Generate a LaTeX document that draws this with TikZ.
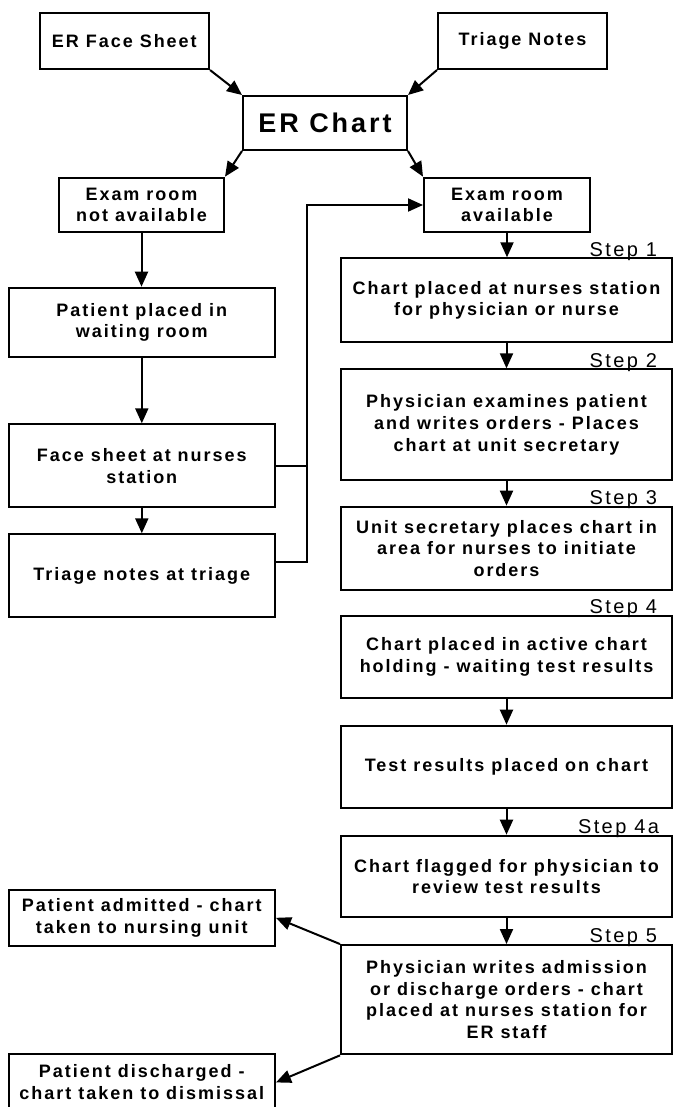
\documentclass[tikz,border=0pt]{standalone}
\usepackage{fontspec}
\setmainfont{Liberation Sans}[LetterSpace=11]
\newfontfamily\stepfont{Liberation Sans}[LetterSpace=12]
\usetikzlibrary{arrows.meta}

\begin{document}
\begin{tikzpicture}[x=1pt, y=-1pt, line width=2pt,
    box/.style={draw, line width=2pt, align=center, inner sep=0pt,
        font=\fontsize{18}{21.7}\selectfont\bfseries},
    flow/.style={-{Triangle[length=15pt,width=13pt]}, line width=2pt},
    steplabel/.style={anchor=base east, inner sep=0pt,
        font=\stepfont\fontsize{20}{24}\selectfont}]
    \useasboundingbox (0,0) rectangle (673,1107);

    % Sources
    \node[box, minimum width=169.5pt, minimum height=56.3pt] (facesheet) at (124.3,40.9) {ER Face Sheet};
    \node[box, minimum width=169pt, minimum height=56pt] (triagenotes) at (522.5,41) {Triage Notes};
    \node[box, minimum width=164pt, minimum height=54pt, font=\fontsize{27}{30}\selectfont\bfseries] (erchart) at (325,123) {ER Chart};

    % Branches
    \node[box, minimum width=165pt, minimum height=54.6pt] (notavail) at (141.5,205) {Exam room\\not available};
    \node[box, minimum width=166pt, minimum height=54.6pt] (avail) at (507,205) {Exam room\\available};

    % Waiting side
    \node[box, minimum width=266.4pt, minimum height=69.6pt] (waiting) at (141.8,322.5) {Patient placed in\\waiting room};
    \node[box, minimum width=266.4pt, minimum height=83pt] (facenurses) at (141.8,465.8) {Face sheet at nurses\\station};
    \node[box, minimum width=266.4pt, minimum height=82.4pt] (triagetriage) at (141.8,575.5) {Triage notes at triage};

    % Steps
    \node[box, minimum width=331pt, minimum height=84pt] (stepone) at (506.5,300.3) {Chart placed at nurses station\\for physician or nurse};
    \node[box, minimum width=331pt, minimum height=110.7pt] (steptwo) at (506.5,424.7) {Physician examines patient\\and writes orders - Places\\chart at unit secretary};
    \node[box, minimum width=331pt, minimum height=83.3pt] (stepthree) at (506.5,548.3) {Unit secretary places chart in\\area for nurses to initiate\\orders};
    \node[box, minimum width=331pt, minimum height=82.3pt] (stepfour) at (506.5,657.2) {Chart placed in active chart\\holding - waiting test results};
    \node[box, minimum width=331pt, minimum height=82.6pt] (results) at (506.5,767) {Test results placed on chart};
    \node[box, minimum width=331pt, minimum height=81.6pt] (stepfoura) at (506.5,876.5) {Chart flagged for physician to\\review test results};
    \node[box, minimum width=331pt, minimum height=109.3pt] (stepfive) at (506.5,999.7) {Physician writes admission\\or discharge orders - chart\\placed at nurses station for\\ER staff};

    % Outcomes
    \node[box, minimum width=266.4pt, minimum height=55.7pt] (admitted) at (141.8,917.8) {Patient admitted - chart\\taken to nursing unit};
    \node[box, minimum width=266.4pt, minimum height=56.2pt] (discharged) at (141.8,1082.4) {Patient discharged -\\chart taken to dismissal};

    % Step labels
    \node[steplabel] (labone) at (658,256) {Step 1};
    \node[steplabel] (labtwo) at (658,367) {Step 2};
    \node[steplabel] (labthree) at (658,504.4) {Step 3};
    \node[steplabel] (labfour) at (658,613.7) {Step 4};
    \node[steplabel] (labfoura) at (660,833.4) {Step 4a};
    \node[steplabel] (labfive) at (658,942.7) {Step 5};

    % Connectors
    \draw[flow] (facesheet.south east) -- (erchart.north west);
    \draw[flow] (triagenotes.south west) -- (erchart.north east);
    \draw[flow] (erchart.south west) -- (notavail.north east);
    \draw[flow] (erchart.south east) -- (avail.north west);
    \draw[flow] (notavail.south) -- (notavail.south |- waiting.north);
    \draw[flow] (waiting) -- (facenurses);
    \draw[flow] (facenurses) -- (triagetriage);

    % Back to exam room
    \coordinate (bus) at (307,0);
    \draw[line width=2pt] (facenurses.east) -- (facenurses.east -| bus);
    \draw[flow] ([yshift=13.8pt]triagetriage.east) -- ([yshift=13.8pt]triagetriage.east -| bus) |- (avail.west);

    \draw[flow] (avail.south) -- (avail.south |- stepone.north);
    \draw[flow] (stepone) -- (steptwo);
    \draw[flow] (steptwo) -- (stepthree);
    \draw[flow] (stepfour) -- (results);
    \draw[flow] (results) -- (stepfoura);
    \draw[flow] (stepfoura) -- (stepfive);
    \draw[flow] (stepfive.north west) -- (admitted.east);
    \draw[flow] (stepfive.south west) -- (discharged.east);
\end{tikzpicture}
\end{document}
